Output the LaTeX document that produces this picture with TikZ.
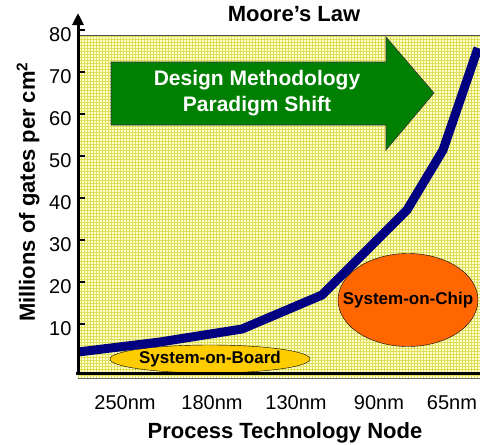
\documentclass[tikz,border=0pt]{standalone}
\usepackage{fontspec}
\setmainfont{Liberation Sans}
\usetikzlibrary{shapes.geometric,arrows.meta}

\definecolor{gridbg}{RGB}{255,255,204}
\definecolor{gridln}{RGB}{222,222,90}
\definecolor{shiftgreen}{RGB}{0,128,0}
\definecolor{curvenavy}{RGB}{0,0,128}
\definecolor{boardyellow}{RGB}{255,204,0}
\definecolor{chiporange}{RGB}{255,102,0}

\tikzset{
  ticklabel/.style={anchor=east, font=\fontsize{20}{24}\selectfont},
  nmlabel/.style={font=\fontsize{20}{24}\selectfont},
  boldlabel/.style={font=\fontsize{22}{26}\selectfont\bfseries},
  blob/.style={ellipse, draw=black, thin, inner sep=0pt},
  blobtext/.style={font=\fontsize{17}{20}\selectfont\bfseries},
}

\begin{document}
\begin{tikzpicture}[x=1pt,y=-1pt]
    \useasboundingbox (0,0) rectangle (480,445);

    % plot area
    \fill[gridbg] (78,35) rectangle (480,378);
    \draw[gridln, line width=0.6pt, step=3pt] (78,35) grid (480,378);
    \draw[black!70, line width=1pt] (78,35) -- (480,35);
    \draw[black!60, line width=0.8pt] (78,378) -- (480,378);

    % paradigm shift arrow
    \draw[fill=shiftgreen, draw=black!80, line width=0.6pt]
        (111,62) -- (386,62) -- (386,37) -- (434,93) -- (386,150) -- (386,125) -- (111,125) -- cycle;
    \node[font=\fontsize{21}{26}\selectfont\bfseries, text=white, align=center] (shift) at (257,93)
        {Design Methodology\\Paradigm Shift};

    % regions
    \node[blob, fill=boardyellow, minimum width=200pt, minimum height=28pt] (board) at (210,359) {};
    \node[blobtext] (boardtext) at (board.center) {System-on-Board};
    \node[blob, fill=chiporange, minimum width=140pt, minimum height=93pt] (chip) at (408,300) {};
    \node[blobtext] (chiptext) at (chip.center) {System-on-Chip};

    % gate density curve
    \coordinate (c0) at (78,352);
    \coordinate (c250) at (160,342);
    \coordinate (c180) at (242,329);
    \coordinate (c130) at (322,295);
    \coordinate (c90) at (407,210);
    \coordinate (c75) at (443,150);
    \coordinate (c65) at (478,48);
    \draw[curvenavy, line width=9pt] (c0) -- (c250) -- (c180) -- (c130) -- (c90) -- (c75) -- (c65);

    % axes
    \draw[line width=3pt] (76,373) -- (480,373);
    \draw[line width=3pt, -{Triangle[width=11pt,length=12pt]}] (78,374.5) -- (78,13);
    \foreach \v in {10,20,...,80} {
        \draw[line width=2.5pt] (78,366-4.2*\v) -- (85,366-4.2*\v);
        \node[ticklabel] (y\v) at (75,371-4.2*\v) {\v};
    }

    % x labels
    \foreach \n/\x in {250/125,180/212,130/296,90/379,65/452}
        \node[nmlabel] (x\n) at (\x,403) {\n nm};

    \node[boldlabel] (title) at (294,14) {Moore’s Law};
    \node[boldlabel] (xtitle) at (285,433) {Process Technology Node};
    \node[boldlabel, rotate=90] (ytitle) at (28,192) {Millions of gates per cm\textsuperscript{2}};
\end{tikzpicture}
\end{document}
